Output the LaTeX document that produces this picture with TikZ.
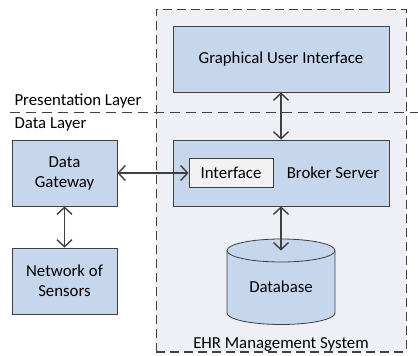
\documentclass[tikz,border=0pt]{standalone}
\usepackage{fontspec}
\setmainfont{Carlito}
\usetikzlibrary{arrows.meta}
\definecolor{boxblue}{RGB}{198,214,236}
\definecolor{areagray}{RGB}{238,240,246}
\definecolor{linegray}{RGB}{64,64,64}
\definecolor{ifacegray}{RGB}{242,242,242}
\begin{document}
\begin{tikzpicture}[x=1pt,y=-1pt,font=\fontsize{16.8}{20}\selectfont]
    \tikzstyle{blk}=[rectangle, draw=linegray, fill=boxblue, line width=0.8pt, align=center, inner sep=0pt]
    \tikzstyle{link}=[{Straight Barb[length=7pt,width=15pt]}-{Straight Barb[length=7pt,width=15pt]}, draw=linegray, line width=1.4pt]
    \tikzstyle{border}=[draw=linegray, line width=0.7pt, dash pattern=on 9pt off 5pt]

    \useasboundingbox (0,0) rectangle (418,356);

    % EHR area
    \fill[areagray] (156,9) rectangle (406,352);
    \draw[border] (156,352) -- (156,9) -- (406,9) -- (406,352);
    \draw[border, line width=1.3pt] (156,352) -- (406,352);
    \draw[border, dash pattern=on 10pt off 6pt] (10,112) -- (418,112);

    \node[anchor=base west] (pres) at (11,105) {Presentation Layer};
    \node[anchor=base west] (data) at (11,128) {Data Layer};
    \node[anchor=base] (ehr) at (281,348) {EHR Management System};

    \node[blk, minimum width=216pt, minimum height=66pt] (gui) at (281,59) {Graphical User Interface};
    \node[blk, minimum width=216pt, minimum height=66pt] (broker) at (281,173) {};
    \node[blk, fill=ifacegray, minimum width=84pt, minimum height=29pt] (iface) at (231,173) {Interface};
    \node (brokername) at (333,173) {Broker Server};
    \node[blk, minimum width=105pt, minimum height=66pt] (gateway) at (64.5,173) {Data\\Gateway};
    \node[blk, minimum width=105pt, minimum height=66pt] (sensors) at (64.5,281) {Network of\\Sensors};

    % database
    \filldraw[fill=boxblue, draw=linegray, line width=0.8pt] (227,250.5) -- (227,313) arc (180:360:54pt and 11.5pt)
        -- (335,250.5) arc (0:180:54pt and 11.5pt) -- cycle;
    \draw[linegray, line width=0.8pt] (227,250.5) arc (180:360:54pt and 11.5pt);
    \coordinate (dbtop) at (281,250.5);
    \node (db) at (281,287) {Database};

    \draw[link] (gui.south) -- (broker.north);
    \draw[link] (gateway.east) -- (iface.west);
    \draw[link] (gateway.south) -- (sensors.north);
    \draw[link] (broker.south) -- (dbtop);
\end{tikzpicture}
\end{document}
